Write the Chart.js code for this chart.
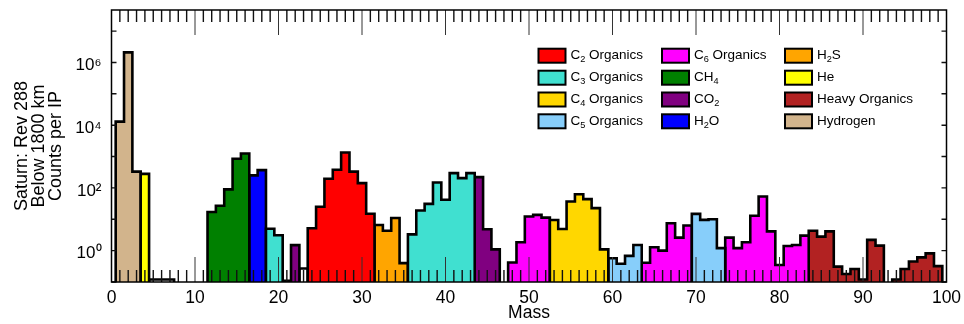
<!DOCTYPE html>
<html>
<head>
<meta charset="utf-8">
<title>Saturn Rev 288 mass spectrum</title>
<script src="https://cdn.jsdelivr.net/npm/chart.js@4.4.1/dist/chart.umd.min.js"></script>
<style>
  html, body { margin: 0; padding: 0; background: #fff; overflow: hidden; }
  canvas { display: block; }
</style>
</head>
<body>
<canvas id="spectrum" width="964" height="324"></canvas>
<script>
// Mass channels (amu) with counts per IP, and the species each channel is assigned to
var masses = [1, 2, 3, 4, 5, 6, 7, 12, 13, 14, 15, 16, 17, 18, 19, 20, 21, 22, 23,
    24, 25, 26, 27, 28, 29, 30, 31, 32, 33, 34, 35, 36, 37, 38, 39, 40, 41, 42, 43,
    44, 45, 46, 48, 49, 50, 51, 52, 53, 54, 55, 56, 57, 58, 59, 60, 61, 62, 63,
    64, 65, 66, 67, 68, 69, 70, 71, 72, 73, 74, 75, 76, 77, 78, 79, 80, 81, 82, 83,
    84, 85, 86, 87, 88, 89, 90, 91, 92, 94, 95, 96, 97, 98, 99];
var counts = [1.3e4, 2.1e6, 330, 280, 0.12, 0.12, 0.12, 17, 27, 90, 850, 1250, 250, 370, 5.0, 3.1, 0.11, 1.5, 0.27,
    5.2, 25, 195, 380, 1350, 330, 142, 15, 6.6, 4.3, 11, 0.4, 3.3, 19, 31, 148, 42, 297, 205, 297,
    220, 4.8, 1.1, 0.42, 1.86, 12.2, 13.8, 11.3, 9.5, 4.9, 37, 63, 44, 22.6, 1.1, 0.57, 0.38, 0.68, 1.52,
    0.41, 1.28, 1.0, 7.5, 2.6, 6.3, 14.9, 9.6, 10, 1.2, 2.6, 1.2, 1.85, 13, 53, 4.1, 0.35, 1.41, 1.52, 3.0,
    4.3, 2.8, 4.1, 0.31, 0.18, 0.26, 0.12, 2.2, 1.44, 0.12, 0.26, 0.45, 0.61, 0.82, 0.32];
var species = ["H", "H", "H", "He", "-", "-", "-", "CH4", "CH4", "CH4", "CH4", "CH4", "H2O", "H2O", "C3", "C3", "-", "CO2", "-",
    "C2", "C2", "C2", "C2", "C2", "C2", "C2", "C2", "H2S", "H2S", "H2S", "H2S", "C3", "C3", "C3", "C3", "C3", "C3", "C3", "C3",
    "CO2", "CO2", "CO2", "C6", "C6", "C6", "C6", "C6", "C4", "C4", "C4", "C4", "C4", "C4", "C4", "C5", "C5", "C5", "C5",
    "C6", "C6", "C6", "C6", "C6", "C6", "C5", "C5", "C5", "C5", "C6", "C6", "C6", "C6", "C6", "C6", "C6", "C6", "C6", "C6",
    "HO", "HO", "HO", "HO", "HO", "HO", "HO", "HO", "HO", "HO", "HO", "HO", "HO", "HO", "HO"];

// Legend entries, listed column by column
var categoryKeys = ["C2", "C3", "C4", "C5", "C6", "CH4", "CO2", "H2O", "H2S", "He", "HO", "H"];
var categoryLabels = ["C\u2082 Organics", "C\u2083 Organics", "C\u2084 Organics", "C\u2085 Organics", "C\u2086 Organics",
    "CH\u2084", "CO\u2082", "H\u2082O", "H\u2082S", "He", "Heavy Organics", "Hydrogen"];
var categoryColors = ["#ff0000", "#40e0d0", "#ffd700", "#87cefa", "#ff00ff", "#008000", "#800080", "#0000ff",
    "#ffa500", "#ffff00", "#b22222", "#d2b48c"];

var xTickValues = [0, 10, 20, 30, 40, 50, 60, 70, 80, 90, 100];
var yTickValues = [1, 100, 1e4, 1e6];
var yTickLabels = ["10\u2070", "10\u00b2", "10\u2074", "10\u2076"];
var yTitle = ["Saturn: Rev 288", "Below 1800 km", "Counts per IP"];
var yMin = 0.1, yMax = 4.7e7;

var fontFamily = "'Liberation Sans', Arial, Helvetica, sans-serif";
Chart.defaults.font.family = fontFamily;
Chart.defaults.color = "#000";

// histogram outline: one closed step shape for every run of neighbouring channels
function histogramPoints(key) {
    var pts = [];
    var prev = null;
    masses.forEach(function (m, i) {
        if (species[i] !== key) return;
        if (prev === null || m !== prev + 1) {
            if (prev !== null) {
                pts.push({x: prev + 0.5, y: yMin});
                pts.push({x: prev + 0.5, y: null});
            }
            pts.push({x: m - 0.5, y: yMin});
        }
        pts.push({x: m - 0.5, y: counts[i]});
        pts.push({x: m + 0.5, y: counts[i]});
        prev = m;
    });
    if (prev !== null) pts.push({x: prev + 0.5, y: yMin});
    return pts;
}

var datasets = categoryKeys.map(function (key, i) {
    return {
        label: categoryLabels[i],
        data: histogramPoints(key),
        backgroundColor: categoryColors[i],
        fill: "origin",
        inLegend: true
    };
});
datasets.push({
    label: "unassigned",
    data: histogramPoints("-"),
    backgroundColor: "rgba(0,0,0,0)",
    fill: false,
    inLegend: false
});

// inward tick marks on all four sides plus the plot frame
var frameTicks = {
    id: "frameTicks",
    afterDatasetsDraw: function (chart) {
        var ctx = chart.ctx, a = chart.chartArea;
        var x = chart.scales.x, y = chart.scales.y;
        ctx.save();
        for (var m = 1; m < 100; m++) {
            var px = x.getPixelForValue(m);
            var major = m % 10 === 0;
            var len = major ? 25 : 12;
            ctx.lineWidth = major ? 1 : 1.4;
            ctx.strokeStyle = major ? "#333" : "#111";
            ctx.beginPath();
            ctx.moveTo(px, a.bottom);
            ctx.lineTo(px, a.bottom - len);
            ctx.moveTo(px, a.top);
            ctx.lineTo(px, a.top + len);
            ctx.stroke();
        }
        ctx.lineWidth = 1.4;
        ctx.strokeStyle = "#111";
        for (var k = -1; k <= 7; k++) {
            var py = y.getPixelForValue(Math.pow(10, k));
            ctx.beginPath();
            ctx.moveTo(a.left, py);
            ctx.lineTo(a.left + 5, py);
            ctx.moveTo(a.right, py);
            ctx.lineTo(a.right - 5, py);
            ctx.stroke();
        }
        ctx.lineWidth = 1.5;
        ctx.strokeStyle = "#000";
        ctx.strokeRect(a.left, a.top, a.right - a.left, a.bottom - a.top);
        ctx.restore();
    }
};

var subDigits = "\u2080\u2081\u2082\u2083\u2084\u2085\u2086\u2087\u2088\u2089";

function drawLabel(ctx, text, x, y, size) {
    ctx.textBaseline = "middle";
    ctx.textAlign = "left";
    for (var i = 0; i < text.length; i++) {
        var ch = text[i];
        var s = subDigits.indexOf(ch);
        if (s >= 0) {
            ctx.font = (size * 0.68) + "px " + fontFamily;
            ctx.fillText(String(s), x, y + 4);
            x += ctx.measureText(String(s)).width;
        } else {
            ctx.font = size + "px " + fontFamily;
            ctx.fillText(ch, x, y);
            x += ctx.measureText(ch).width;
        }
    }
}

// three-column legend inside the plot, filled column by column
var gridLegend = {
    id: "gridLegend",
    afterDraw: function (chart, args, opts) {
        var ctx = chart.ctx;
        var items = chart.data.datasets.filter(function (d) { return d.inLegend; });
        ctx.save();
        items.forEach(function (d, i) {
            var col = Math.floor(i / opts.rows), row = i % opts.rows;
            var bx = opts.colX[col], cy = opts.rowY[row];
            ctx.fillStyle = d.backgroundColor;
            ctx.fillRect(bx, cy - opts.boxH / 2, opts.boxW, opts.boxH);
            ctx.lineWidth = 2;
            ctx.strokeStyle = "#000";
            ctx.strokeRect(bx, cy - opts.boxH / 2, opts.boxW, opts.boxH);
            ctx.fillStyle = "#000";
            drawLabel(ctx, d.label, bx + opts.boxW + 5, cy, opts.fontSize);
        });
        ctx.restore();
    }
};

new Chart(document.getElementById("spectrum"), {
    type: "line",
    data: {datasets: datasets},
    options: {
        responsive: false,
        devicePixelRatio: 1,
        animation: false,
        events: [],
        layout: {padding: {top: 10, right: 17.5, bottom: 0, left: 0}},
        elements: {
            line: {borderColor: "#000", borderWidth: 2.6, tension: 0, borderJoinStyle: "miter", borderCapStyle: "butt"},
            point: {radius: 0, hoverRadius: 0}
        },
        spanGaps: false,
        scales: {
            x: {
                type: "linear",
                min: 0,
                max: 100,
                afterFit: function (s) { s.height = 42; },
                afterBuildTicks: function (s) { s.ticks = xTickValues.map(function (v) { return {value: v}; }); },
                ticks: {autoSkip: false, maxRotation: 0, padding: -2, font: {size: 17.5}, color: "#000"},
                grid: {display: false},
                border: {display: false},
                title: {display: true, text: "Mass", padding: {top: 0, bottom: 0}, font: {size: 17.5}, color: "#000"}
            },
            y: {
                type: "logarithmic",
                min: yMin,
                max: yMax,
                afterFit: function (s) { s.width = 111.5; s.paddingTop = 0; s.paddingBottom = 0; },
                afterBuildTicks: function (s) { s.ticks = yTickValues.map(function (v) { return {value: v}; }); },
                ticks: {
                    autoSkip: false,
                    padding: 2,
                    labelOffset: 3,
                    font: {size: 17},
                    color: "#000",
                    callback: function (v, i) { return yTickLabels[i]; }
                },
                grid: {display: false},
                border: {display: false},
                title: {display: true, text: yTitle, padding: {top: 14, bottom: 0}, font: {size: 18, lineHeight: 0.93}, color: "#000"}
            }
        },
        plugins: {
            legend: {display: false},
            tooltip: {enabled: false},
            gridLegend: {
                rows: 4,
                colX: [538.5, 662, 785],
                rowY: [55.7, 77.7, 99.5, 121.3],
                boxW: 27,
                boxH: 14,
                fontSize: 13.5
            }
        }
    },
    plugins: [frameTicks, gridLegend]
});
</script>
</body>
</html>
